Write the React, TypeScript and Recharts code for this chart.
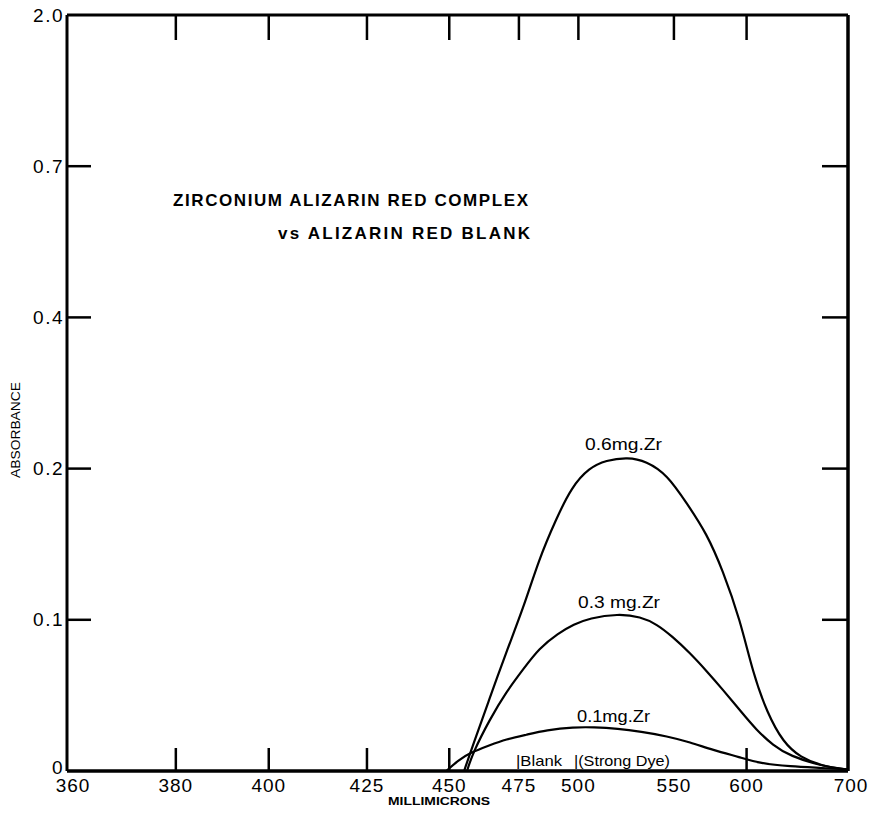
import React from 'react';
import { LineChart, Line, XAxis, YAxis } from 'recharts';

// wavelength axis (millimicrons) and absorbance axis labels
const wavelengthTicks = [360, 380, 400, 425, 450, 475, 500, 550, 600, 700];
const topTickMarks = [380, 400, 425, 450, 475, 500, 550, 600];
const bottomTickMarks = [380, 400, 425, 450, 600];
const absorbanceTicks = [0, 0.1, 0.2, 0.4, 0.7, 2.0];
const innerTickMarks = [0.1, 0.2, 0.4, 0.7];

// 0.6 mg Zr
const wl06 = [455, 458, 464, 470, 477, 483, 490, 497, 505, 513, 524, 534, 546, 558, 571, 582, 595, 605, 617, 631, 647, 671, 700];
const abs06 = [0, 0.017, 0.048, 0.078, 0.109, 0.14, 0.166, 0.188, 0.201, 0.211, 0.215, 0.21, 0.196, 0.177, 0.157, 0.133, 0.1, 0.065, 0.038, 0.019, 0.009, 0.003, 0.001];
// 0.3 mg Zr
const wl03 = [456, 458, 464, 470, 477, 483, 491, 498, 505, 519, 531, 540, 549, 560, 571, 582, 595, 608, 622, 637, 671, 700];
const abs03 = [0, 0.012, 0.034, 0.052, 0.068, 0.081, 0.091, 0.097, 0.101, 0.104, 0.102, 0.097, 0.089, 0.078, 0.066, 0.054, 0.04, 0.027, 0.017, 0.01, 0.003, 0.001];
// 0.1 mg Zr
const wl01 = [449, 453, 457, 464, 470, 478, 486, 498, 507, 519, 531, 546, 560, 575, 595, 611, 637, 671, 700];
const abs01 = [0, 0.007, 0.012, 0.017, 0.021, 0.024, 0.027, 0.029, 0.029, 0.028, 0.026, 0.023, 0.019, 0.014, 0.009, 0.005, 0.003, 0.002, 0.001];

const FONT = '"Liberation Sans", Arial, sans-serif';

// the wavelength scale of the chart paper runs linear in 1/λ²
const toX = (wl: number) => 1e6 / (360 * 360) - 1e6 / (wl * wl);
const fromX = (x: number) => Math.round(1000 / Math.sqrt(1e6 / (360 * 360) - x));

// absorbance labels are evenly spaced on the paper
const toY = (a: number) => {
  for (let i = 1; i < absorbanceTicks.length; i++) {
    if (a <= absorbanceTicks[i]) {
      return i - 1 + (a - absorbanceTicks[i - 1]) / (absorbanceTicks[i] - absorbanceTicks[i - 1]);
    }
  }
  return absorbanceTicks.length - 1;
};

const build = (wl: number[], ab: number[]) => wl.map((w, i) => ({ x: toX(w), y: toY(ab[i]) }));
const s06 = build(wl06, abs06);
const s03 = build(wl03, abs03);
const s01 = build(wl01, abs01);

const near = (list: number[], v: number) => list.some((t) => Math.abs(t - v) < 0.01);

const LeftTick = (props: any) => {
  const { x, y, payload } = props;
  const a = absorbanceTicks[Math.round(payload.value)];
  const ax = x + 1;
  const ty = a === 0 ? y - 4 : y;
  return (
    <g>
      {near(innerTickMarks, a) && <line x1={ax} y1={y} x2={ax + 23} y2={y} stroke="#000" strokeWidth={2.5} />}
      <text x={ax - 4} y={ty} textAnchor="end" dominantBaseline="central" fontSize={19} letterSpacing={1.5} fontFamily={FONT} fill="#000">
        {a === 0 ? '0' : a.toFixed(1)}
      </text>
    </g>
  );
};

const RightTick = (props: any) => {
  const { x, y, payload } = props;
  const a = absorbanceTicks[Math.round(payload.value)];
  if (!near(innerTickMarks, a)) return <g />;
  const ax = x - 1;
  return <line x1={ax} y1={y} x2={ax - 25} y2={y} stroke="#000" strokeWidth={2.5} />;
};

const BottomTick = (props: any) => {
  const { x, y, payload } = props;
  const wl = fromX(payload.value);
  const ay = y - 1;
  const shift = wl === 360 ? 6 : wl === 700 ? 3 : 0;
  return (
    <g>
      {near(bottomTickMarks, wl) && <line x1={x} y1={ay} x2={x} y2={ay - 22} stroke="#000" strokeWidth={2.5} />}
      <text x={x + shift} y={ay + 15} textAnchor="middle" dominantBaseline="central" fontSize={19} letterSpacing={1} fontFamily={FONT} fill="#000">
        {wl}
      </text>
    </g>
  );
};

const TopTick = (props: any) => {
  const { x, y } = props;
  const ay = y + 1;
  return <line x1={x} y1={ay} x2={x} y2={ay + 24} stroke="#000" strokeWidth={2.5} />;
};

const App: React.FC = () => {
  const xMax = toX(700);
  const yMax = absorbanceTicks.length - 1;
  return (
    <div style={{ position: 'absolute', left: 0, top: 0, width: 876, height: 814, background: '#fff' }}>
      <LineChart width={876} height={814} margin={{ top: 14, right: 27, bottom: 42, left: 66 }}>
        <XAxis
          xAxisId="b"
          dataKey="x"
          type="number"
          domain={[0, xMax]}
          ticks={wavelengthTicks.map(toX)}
          height={1}
          tickSize={0}
          tickMargin={0}
          tickLine={false}
          interval={0}
          axisLine={{ stroke: '#000', strokeWidth: 3.5 }}
          tick={<BottomTick />}
          allowDataOverflow
        />
        <XAxis
          xAxisId="t"
          orientation="top"
          dataKey="x"
          type="number"
          domain={[0, xMax]}
          ticks={topTickMarks.map(toX)}
          height={1}
          tickSize={0}
          tickMargin={0}
          tickLine={false}
          interval={0}
          axisLine={{ stroke: '#000', strokeWidth: 3 }}
          tick={<TopTick />}
          allowDataOverflow
        />
        <YAxis
          yAxisId="l"
          type="number"
          domain={[0, yMax]}
          ticks={absorbanceTicks.map((_, i) => i)}
          width={1}
          tickSize={0}
          tickMargin={0}
          tickLine={false}
          interval={0}
          axisLine={{ stroke: '#000', strokeWidth: 3 }}
          tick={<LeftTick />}
          allowDataOverflow
        />
        <YAxis
          yAxisId="r"
          orientation="right"
          type="number"
          domain={[0, yMax]}
          ticks={absorbanceTicks.map((_, i) => i)}
          width={1}
          tickSize={0}
          tickMargin={0}
          tickLine={false}
          interval={0}
          axisLine={{ stroke: '#000', strokeWidth: 3.5 }}
          tick={<RightTick />}
          allowDataOverflow
        />
        <Line xAxisId="b" yAxisId="l" data={s06} dataKey="y" type="basis" stroke="#000" strokeWidth={2.2} dot={false} isAnimationActive={false} />
        <Line xAxisId="b" yAxisId="l" data={s03} dataKey="y" type="basis" stroke="#000" strokeWidth={2.2} dot={false} isAnimationActive={false} />
        <Line xAxisId="b" yAxisId="l" data={s01} dataKey="y" type="basis" stroke="#000" strokeWidth={2.2} dot={false} isAnimationActive={false} />
      </LineChart>
      <svg width={876} height={814} style={{ position: 'absolute', left: 0, top: 0, pointerEvents: 'none' }} fontFamily={FONT} fill="#000">
        <text x={173} y={200} dominantBaseline="central" fontSize={17} fontWeight="bold" textLength={355} lengthAdjust="spacing">
          ZIRCONIUM  ALIZARIN  RED  COMPLEX
        </text>
        <text x={278} y={233} dominantBaseline="central" fontSize={17} fontWeight="bold" textLength={252} lengthAdjust="spacing">
          vs  ALIZARIN  RED  BLANK
        </text>
        <text x={585} y={444} dominantBaseline="central" fontSize={16} textLength={77} lengthAdjust="spacingAndGlyphs">0.6mg.Zr</text>
        <text x={578} y={602} dominantBaseline="central" fontSize={16} textLength={82} lengthAdjust="spacingAndGlyphs">0.3 mg.Zr</text>
        <text x={577} y={716} dominantBaseline="central" fontSize={16} textLength={73} lengthAdjust="spacingAndGlyphs">0.1mg.Zr</text>
        <text x={516} y={760} dominantBaseline="central" fontSize={15} textLength={46} lengthAdjust="spacingAndGlyphs">|Blank</text>
        <text x={574} y={760} dominantBaseline="central" fontSize={15} textLength={96} lengthAdjust="spacingAndGlyphs">|(Strong Dye)</text>
        <text x={388} y={801} dominantBaseline="central" fontSize={11} fontWeight="bold" textLength={102} lengthAdjust="spacingAndGlyphs">MILLIMICRONS</text>
        <text x={16} y={430} transform="rotate(-90 16 430)" textAnchor="middle" dominantBaseline="central" fontSize={12} textLength={96} lengthAdjust="spacingAndGlyphs">ABSORBANCE</text>
      </svg>
    </div>
  );
};

export default App;
